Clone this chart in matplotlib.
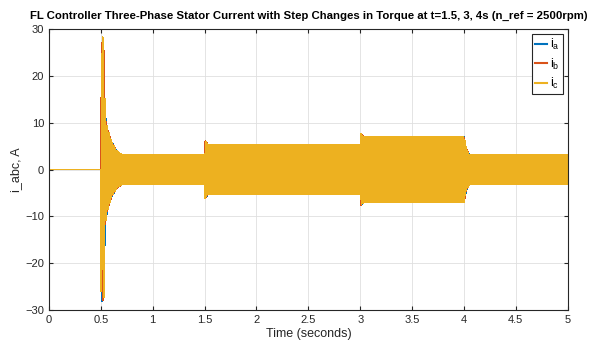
import numpy as np
import matplotlib.pyplot as plt

plt.rcParams['font.family'] = ['Liberation Sans', 'DejaVu Sans']

# envelope of the stator currents (time s, peak A)
env_time = [0.0, 0.5, 0.505, 0.515, 0.53, 0.54, 0.56, 0.6, 0.65, 0.7, 1.5, 1.505, 1.53, 3.0, 3.005, 3.03, 4.0, 4.02, 4.05, 5.0]
env_amp = [0.0, 0.0, 26.0, 28.5, 27.0, 12.0, 9.0, 6.0, 4.0, 3.2, 3.2, 6.2, 5.3, 5.3, 7.6, 7.0, 7.0, 4.5, 3.2, 3.2]

# electrical frequency during the speed-up (time s, Hz)
freq_time = [0.5, 0.7, 5.0]
freq_hz = [40, 83, 83]
start_phase_deg = 75

phase_deg = [0, -120, 120]
labels = ['$\\mathregular{i_a}$', '$\\mathregular{i_b}$', '$\\mathregular{i_c}$']
colors = ['#0072BD', '#D95319', '#EDB120']

dt = 2e-4
t = np.arange(0, 5.0 + dt, dt)
amp = np.interp(t, env_time, env_amp)
f = np.interp(t, freq_time, freq_hz, left=0)
theta = 2 * np.pi * np.cumsum(f) * dt + np.deg2rad(start_phase_deg)

fig = plt.figure(figsize=(5.97, 3.45), dpi=100)
ax = fig.add_axes([0.082, 0.101, 0.869, 0.815])

for ph, lab, col in zip(phase_deg, labels, colors):
    ax.plot(t, amp * np.sin(theta + np.deg2rad(ph)), color=col, lw=0.6, label=lab,
            antialiased=False)

ax.set_xlim(0, 5)
ax.set_ylim(-30, 30)
ax.set_xticks(np.arange(0, 5.01, 0.5))
ax.set_xticklabels(['0', '0.5', '1', '1.5', '2', '2.5', '3', '3.5', '4', '4.5', '5'])
ax.set_yticks(np.arange(-30, 31, 10))
ax.tick_params(direction='in', top=True, right=True, labelsize=8, colors='#262626', length=3)
ax.grid(True, color='#dfdfdf', lw=0.6)
ax.set_axisbelow(True)
for s in ax.spines.values():
    s.set_color('#262626')
    s.set_linewidth(0.8)

ax.set_xlabel('Time (seconds)', fontsize=9, color='#262626', labelpad=2)
ax.set_ylabel('i_abc, A', fontsize=9, color='#262626', labelpad=2)
ax.set_title('FL Controller Three-Phase Stator Current with Step Changes in Torque at t=1.5, 3, 4s (n_ref = 2500rpm)',
             fontsize=8.2, fontweight='bold', pad=7)

leg = ax.legend(loc='upper right', fontsize=9, handlelength=1.0, handletextpad=0.2,
                borderpad=0.25, labelspacing=0.35, fancybox=False, framealpha=1,
                edgecolor='#262626', borderaxespad=0.4)
leg.get_frame().set_linewidth(0.8)
for line in leg.get_lines():
    line.set_linewidth(1.5)
    line.set_antialiased(True)

fig.savefig('out.png', dpi=100)
